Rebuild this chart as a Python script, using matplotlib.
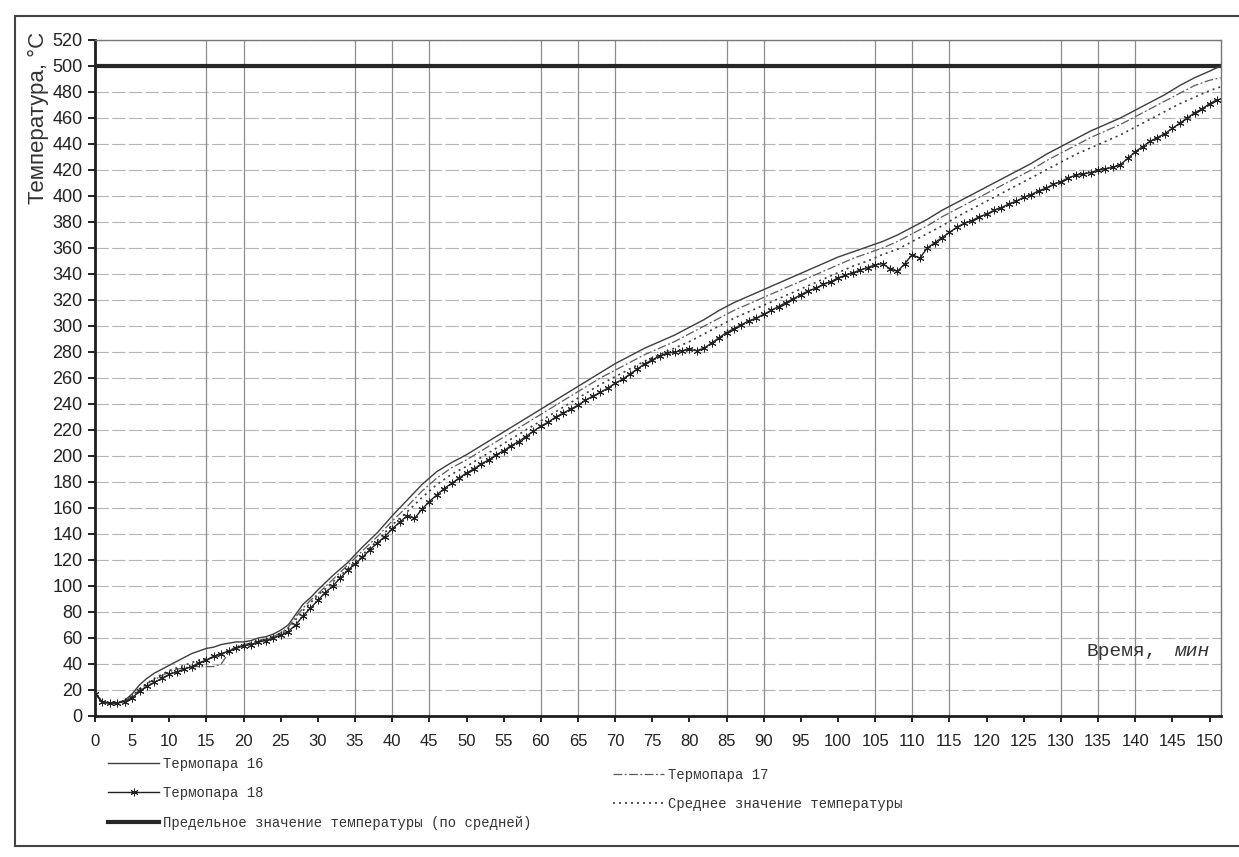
import matplotlib
matplotlib.use("Agg")
import matplotlib.pyplot as plt
from matplotlib.lines import Line2D

plt.rcParams['font.family'] = ['Liberation Sans', 'DejaVu Sans']

# ---------------- data ----------------
time_main = list(range(0, 31)) + list(range(32, 151, 2)) + [151.5]

t16 = [18, 10, 10, 10, 12, 17, 24, 29, 33, 36, 39, 42, 45, 48, 50, 52, 53, 55, 56, 57,
       57, 58, 60, 61, 63, 66, 70, 78, 86, 91, 97,
       108, 118, 130, 141, 154, 166, 178, 188, 195, 201,
       208, 215, 222, 229, 236, 243, 250, 257, 264, 271,
       277, 283, 288, 293, 299, 305, 312, 318, 323, 328,
       333, 338, 343, 348, 353, 357, 361, 365, 370, 376,
       382, 389, 395, 401, 407, 413, 419, 425, 432, 438,
       444, 450, 455, 460, 466, 472, 478, 485, 491, 496,
       500]

t17 = [18, 11, 10, 10, 12, 15, 20, 25, 28, 31, 34, 36, 37, 38, 38, 38, 38, 40, 49, 53,
       55, 56, 58, 59, 61, 64, 68, 76, 83, 89, 94,
       105, 116, 127, 138, 150, 161, 173, 183, 191, 197,
       204, 211, 218, 225, 232, 239, 246, 253, 260, 266,
       272, 278, 283, 288, 294, 300, 306, 312, 317, 322,
       327, 332, 337, 342, 347, 352, 356, 360, 365, 371,
       377, 384, 390, 396, 402, 408, 414, 420, 427, 433,
       439, 445, 450, 455, 461, 467, 473, 479, 485, 489,
       491]

t_avg = [18, 10, 10, 10, 12, 15, 21, 25, 29, 32, 35, 37, 39, 41, 43, 44, 45, 47, 50, 53,
         55, 56, 58, 59, 61, 63, 67, 74, 81, 87, 93,
         103, 113, 124, 135, 147, 157, 168, 178, 186, 192,
         199, 206, 213, 220, 227, 234, 241, 248, 255, 261,
         267, 273, 278, 283, 288, 294, 300, 306, 311, 316,
         321, 326, 331, 336, 341, 346, 350, 355, 359, 365,
         371, 377, 384, 390, 396, 402, 408, 414, 420, 426,
         432, 437, 442, 447, 453, 459, 465, 471, 476, 481,
         484]

time_t18 = list(range(0, 152))
t18 = [17, 11, 10, 10, 11, 14, 19, 23, 26, 29,
       32, 34, 36, 38, 41, 43, 46, 48, 50, 52,
       54, 55, 57, 58, 60, 62, 65, 70, 77, 83,
       89, 95, 100, 106, 112, 117, 122, 128, 133, 138,
       144, 149, 154, 152, 159, 165, 170, 175, 179, 183,
       187, 190, 194, 197, 201, 204, 208, 211, 215, 219,
       223, 226, 230, 233, 236, 239, 243, 246, 249, 252,
       256, 259, 263, 267, 271, 274, 277, 279, 280, 281,
       282, 281, 283, 287, 291, 295, 298, 301, 304, 306,
       309, 312, 315, 318, 321, 324, 327, 329, 332, 334,
       337, 339, 341, 343, 345, 347, 348, 344, 342, 348,
       355, 352, 360, 364, 368, 372, 376, 379, 381, 384,
       386, 389, 391, 394, 396, 399, 401, 404, 406, 409,
       411, 414, 416, 417, 418, 420, 421, 422, 424, 429,
       434, 438, 442, 445, 448, 452, 456, 460, 464, 467,
       471, 474]

limit_x = [0, 151.5]
limit_y = [500, 500]

x_ticks = list(range(0, 151, 5))
y_ticks = list(range(0, 521, 20))

label_t16 = 'Термопара 16'
label_t17 = 'Термопара 17'
label_t18 = 'Термопара 18'
label_avg = 'Среднее значение температуры'
label_lim = 'Предельное значение температуры (по средней)'

# ---------------- figure ----------------
W, H = 1239, 857
fig = plt.figure(figsize=(W / 100, H / 100), dpi=100)
fig.patch.set_facecolor('white')

ax_top_px, ax_bot_px = 40, 716
ax = fig.add_axes([95 / W, 1 - ax_bot_px / H, 151.5 * 7.43 / W, (ax_bot_px - ax_top_px) / H])
ax.set_xlim(0, 151.5)
ax.set_ylim(0, 520)

# grid (as in the scanned original: horizontal lines every 20, some vertical lines)
for v in y_ticks[1:]:
    ax.axhline(v, color='#b4b4b4', lw=0.8, ls=(0, (12, 3)), zorder=0)
v_grid = [15, 20, 35, 40, 45, 60, 65, 70, 85, 90, 105, 110, 115, 130, 135, 140]
for v in v_grid:
    ax.axvline(v, color='#8c8c8c', lw=0.9, zorder=0)

h_lim, = ax.plot(limit_x, limit_y, color='#262626', lw=3.0, label=label_lim, zorder=3)
h16, = ax.plot(time_main, t16, color='#3c3c3c', lw=1.0, label=label_t16, zorder=4)
h17, = ax.plot(time_main, t17, color='#5a5a5a', lw=0.9, ls=(0, (7, 2, 1.5, 2)),
               label=label_t17, zorder=4)
havg, = ax.plot(time_main, t_avg, color='#3a3a3a', lw=1.2, ls=(0, (1.2, 2.4)),
                label=label_avg, zorder=4)
h18, = ax.plot(time_t18, t18, color='#222222', lw=1.0, marker=(6, 2, 0), ms=5.5,
               mew=0.7, label=label_t18, zorder=5)

ax.set_xticks(x_ticks)
ax.set_yticks(y_ticks)
ax.tick_params(axis='x', direction='out', length=4, width=1.4, pad=9,
               labelsize=12, colors='#222222')
ax.tick_params(axis='y', direction='out', length=5, width=1.4, pad=4,
               labelsize=13, colors='#222222')

for s in ['left', 'bottom']:
    ax.spines[s].set_linewidth(2.0)
    ax.spines[s].set_color('#1e1e1e')
for s in ['top', 'right']:
    ax.spines[s].set_linewidth(1.0)
    ax.spines[s].set_color('#777777')

ax.text(-0.05, 1.012, 'Температура, °C', transform=ax.transAxes, rotation=90,
        ha='center', va='top', fontsize=16, color='#333333')

mono = ['Liberation Mono', 'DejaVu Sans Mono']
ax.text(150, 50, 'мин', ha='right', va='center', fontsize=14, family=mono,
        style='italic', color='#333333')
ax.annotate('Время,', xy=(150, 50), xytext=(-38, 0), textcoords='offset points',
            ha='right', va='center', fontsize=14, family=mono, color='#333333')

leg_kw = dict(frameon=False, borderpad=0, borderaxespad=0, handlelength=3.7,
              handletextpad=0.25, labelspacing=1.1,
              prop={'family': mono, 'size': 10})
leg1 = fig.legend(handles=[h16, h18, h_lim], loc='upper left',
                  bbox_to_anchor=(108 / W, 1 - 757 / H), **leg_kw)
leg2 = fig.legend(handles=[h17, havg], loc='upper left',
                  bbox_to_anchor=(613 / W, 1 - 768 / H), **leg_kw)
for lg in (leg1, leg2):
    for t in lg.get_texts():
        t.set_color('#333333')

# outer frame of the scanned page
fx0, fy0, fy1 = 15 / W, 1 - 846 / H, 1 - 16 / H
for xs, ys in [([fx0, 1.02], [fy1, fy1]), ([fx0, fx0], [fy0, fy1]), ([fx0, 1.02], [fy0, fy0])]:
    fig.add_artist(Line2D(xs, ys, transform=fig.transFigure, color='#444444', lw=1.5))

fig.savefig('out.png', dpi=100)
